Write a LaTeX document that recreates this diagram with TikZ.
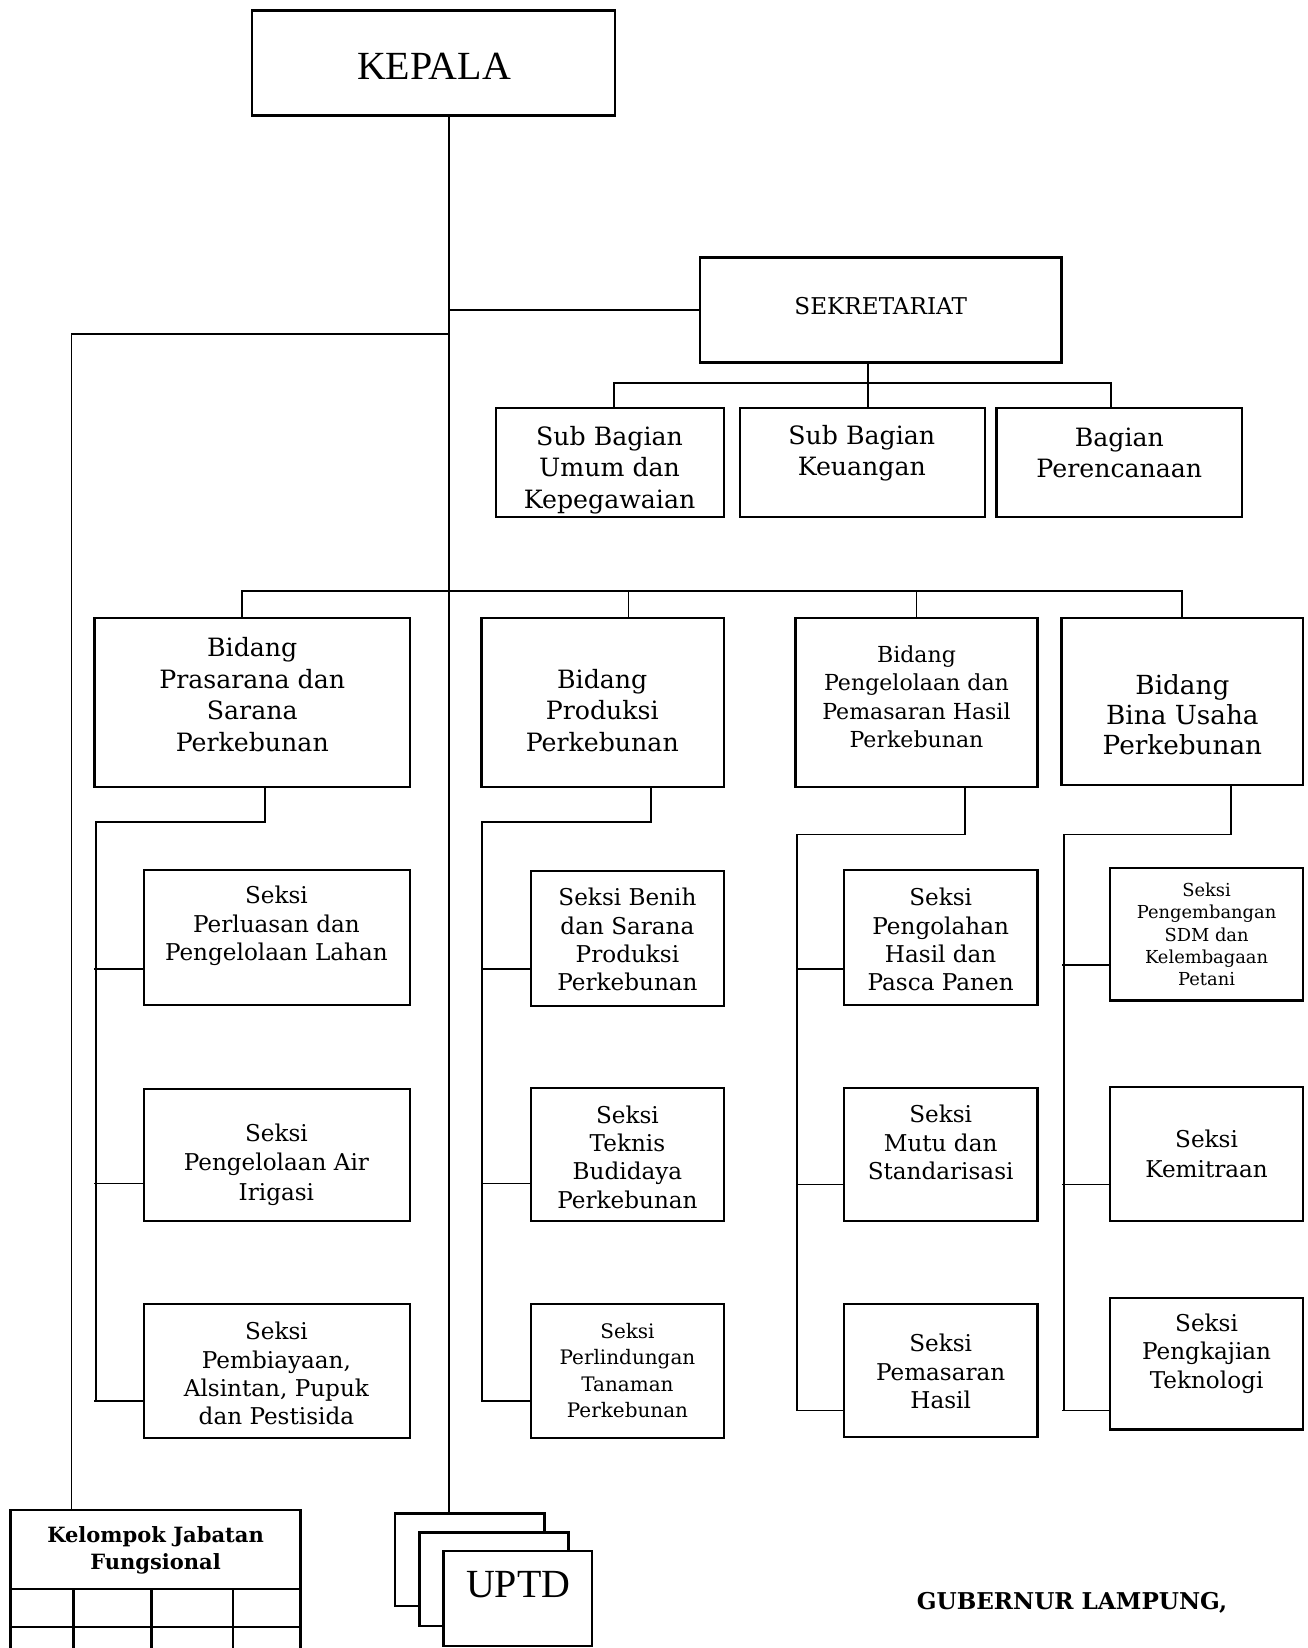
\documentclass[tikz,border=0pt]{standalone}
\usepackage{fontspec}
\newfontfamily\bodyfont{DejaVu Serif}
\newfontfamily\titlefont{Liberation Serif}
\begin{document}
\begin{tikzpicture}[x=0.5pt,y=0.5pt,yscale=-1,xscale=1,
  box/.style 2 args={draw, line width=1.1pt, minimum width=#1*0.5pt, minimum height=#2*0.5pt, inner sep=0pt},
  txt/.style 2 args={align=center, inner sep=0pt, font=\bodyfont\fontsize{#1}{#2}\selectfont},
  head/.style={inner sep=0pt, font=\titlefont\fontsize{19}{22}\selectfont},
  link/.style={line width=0.9pt}]
\useasboundingbox (0,0) rectangle (1244,1568);
% top
\node[box={345}{100}] (kepala) at (412.5,60) {};
\node[head] (kepala-t) at (413,63) {KEPALA};
\node[box={344}{100}] (sekre) at (838,295) {};
\node[txt={11}{13}] (sekre-t) at (838,291) {SEKRETARIAT};
\node[box={217}{104}] (sbumum) at (580.5,440) {};
\node[txt={12}{15}] (sbumum-t) at (580,447) {Sub Bagian\\Umum dan\\Kepegawaian};
\node[box={233}{104}] (sbkeu) at (820.5,440) {};
\node[txt={12}{15}] (sbkeu-t) at (820,431) {Sub Bagian\\Keuangan};
\node[box={234}{104}] (bren) at (1065,440) {};
\node[txt={12}{15}] (bren-t) at (1065,431) {Bagian\\Perencanaan};
% bidang
\node[box={300}{161}] (bidps) at (240,668.5) {};
\node[txt={12}{15}] (bidps-t) at (240,661) {Bidang\\Prasarana dan\\Sarana\\Perkebunan};
\node[box={231}{161}] (bidprod) at (573.5,668.5) {};
\node[txt={12}{15}] (bidprod-t) at (573,676) {Bidang\\Produksi\\Perkebunan};
\node[box={230}{161}] (bidpp) at (872,668.5) {};
\node[txt={10.5}{13.5}] (bidpp-t) at (872,663) {Bidang\\Pengelolaan dan\\Pemasaran Hasil\\Perkebunan};
\node[box={230}{159}] (bidbu) at (1125,667.5) {};
\node[txt={12.5}{14.5}] (bidbu-t) at (1125,680) {Bidang\\Bina Usaha\\Perkebunan};
% seksi prasarana
\node[box={253}{128}] (ps1) at (263.5,892) {};
\node[txt={11}{13.5}] (ps1-t) at (263,881) {Seksi\\Perluasan dan\\Pengelolaan Lahan};
\node[box={253}{126}] (ps2) at (263.5,1099) {};
\node[txt={11}{14}] (ps2-t) at (263,1108) {Seksi\\Pengelolaan Air\\Irigasi};
\node[box={253}{127}] (ps3) at (263.5,1304.5) {};
\node[txt={11}{13.5}] (ps3-t) at (263,1307) {Seksi\\Pembiayaan,\\Alsintan, Pupuk\\dan Pestisida};
% seksi produksi
\node[box={184}{128}] (pr1) at (597,893) {};
\node[txt={11}{13.5}] (pr1-t) at (597,894) {Seksi Benih\\dan Sarana\\Produksi\\Perkebunan};
\node[box={184}{127}] (pr2) at (597,1098.5) {};
\node[txt={11}{13.5}] (pr2-t) at (597,1101) {Seksi\\Teknis\\Budidaya\\Perkebunan};
\node[box={184}{127}] (pr3) at (597,1304.5) {};
\node[txt={9.5}{12.5}] (pr3-t) at (597,1304) {Seksi\\Perlindungan\\Tanaman\\Perkebunan};
% seksi pengelolaan
\node[box={184}{128}] (pp1) at (895,892) {};
\node[txt={11}{13.5}] (pp1-t) at (895,894) {Seksi\\Pengolahan\\Hasil dan\\Pasca Panen};
\node[box={184}{127}] (pp2) at (895,1098.5) {};
\node[txt={11}{13.5}] (pp2-t) at (895,1087) {Seksi\\Mutu dan\\Standarisasi};
\node[box={184}{126}] (pp3) at (895,1304) {};
\node[txt={11}{13.5}] (pp3-t) at (895,1305) {Seksi\\Pemasaran\\Hasil};
% seksi bina usaha
\node[box={184}{126}] (bu1) at (1148,889) {};
\node[txt={8.5}{10.5}] (bu1-t) at (1148,889) {Seksi\\Pengembangan\\SDM dan\\Kelembagaan\\Petani};
\node[box={184}{128}] (bu2) at (1148,1098) {};
\node[txt={11}{14}] (bu2-t) at (1148,1098) {Seksi\\Kemitraan};
\node[box={184}{125}] (bu3) at (1148,1297.5) {};
\node[txt={11}{13.5}] (bu3-t) at (1148,1288) {Seksi\\Pengkajian\\Teknologi};
% bottom
\node[box={276}{75}] (jf) at (148,1474.5) {};
\node[txt={10}{12.5}, font=\bodyfont\bfseries\fontsize{10}{12.5}\selectfont] (jf-t) at (148,1475) {Kelompok Jabatan\\Fungsional};
\draw[line width=1.1pt] (10,1512) -- (10,1568) (70,1512) -- (70,1568) (144,1512) -- (144,1568) (222,1512) -- (222,1568) (286,1512) -- (286,1568) (10,1548) -- (286,1548);
\node[box={142}{88}] (uptda) at (447,1484) {};
\node[box={142}{89}, fill=white] (uptdb) at (470,1502.5) {};
\node[box={141}{90}, fill=white] (uptd) at (492.5,1521) {};
\node[head] (uptd-t) at (493,1508) {UPTD};
\node[txt={11}{13}, font=\bodyfont\bfseries\fontsize{11}{13}\selectfont] (gub) at (1020,1525) {GUBERNUR LAMPUNG,};
% connectors
\coordinate (k0) at ([xshift=7.25pt]kepala.south);
\draw[link] (k0) -- (k0 |- uptda.north);
\draw[link] (k0 |- sekre.west) -- (sekre.west);
\coordinate (jfk) at (68,318);
\draw[link] (k0 |- jfk) -- (jfk) -- (jfk |- jf.north);
\coordinate (sdrop) at ([xshift=-6pt]sekre.south);
\coordinate (sbus) at (826,364);
\draw[link] (sdrop) -- (sdrop |- sbkeu.north);
\draw[link] ([xshift=2pt]sbumum.north) |- (sbus) -| ([xshift=-4pt]bren.north);
\coordinate (bbus) at (427,562);
\draw[link] ([xshift=-5pt]bidps.north) |- (bbus) -| (bidbu.north);
\coordinate (dprod) at ([xshift=12.25pt]bidprod.north);
\draw[link] (dprod) -- (dprod |- bbus);
\draw[link] (bidpp.north) -- (bidpp.north |- bbus);
% prasarana
\coordinate (ps-e) at (91,782);
\coordinate (ps-b) at (91,1333);
\draw[link] ([xshift=6pt]bidps.south) |- (ps-e) -- (ps-b);
\draw[link] ([yshift=15pt]ps1.west) -- ++(-23pt,0);
\draw[link] ([yshift=13.5pt]ps2.west) -- ++(-23pt,0);
\draw[link] ([yshift=14.25pt]ps3.west) -- ++(-23pt,0);
% produksi
\coordinate (pr-e) at (459,782);
\coordinate (pr-b) at (459,1333);
\draw[link] ([xshift=22.75pt]bidprod.south) |- (pr-e) -- (pr-b);
\draw[link] ([yshift=14.5pt]pr1.west) -- ++(-23pt,0);
\draw[link] ([yshift=13.75pt]pr2.west) -- ++(-23pt,0);
\draw[link] ([yshift=14.25pt]pr3.west) -- ++(-23pt,0);
% pengelolaan
\coordinate (pp-e) at (758,794);
\coordinate (pp-b) at (758,1342);
\draw[link] ([xshift=23pt]bidpp.south) |- (pp-e) -- (pp-b);
\draw[link] ([yshift=15pt]pp1.west) -- ++(-22.5pt,0);
\draw[link] ([yshift=14.25pt]pp2.west) -- ++(-22.5pt,0);
\draw[link] ([yshift=19pt]pp3.west) -- ++(-22.5pt,0);
% bina usaha
\coordinate (bu-e) at (1012,794);
\coordinate (bu-b) at (1012,1342);
\draw[link] ([xshift=23pt]bidbu.south) |- (bu-e) -- (bu-b);
\draw[link] ([yshift=14.5pt]bu1.west) -- ++(-22pt,0);
\draw[link] ([yshift=14.5pt]bu2.west) -- ++(-22pt,0);
\draw[link] ([yshift=22.25pt]bu3.west) -- ++(-22pt,0);
\end{tikzpicture}
\end{document}
